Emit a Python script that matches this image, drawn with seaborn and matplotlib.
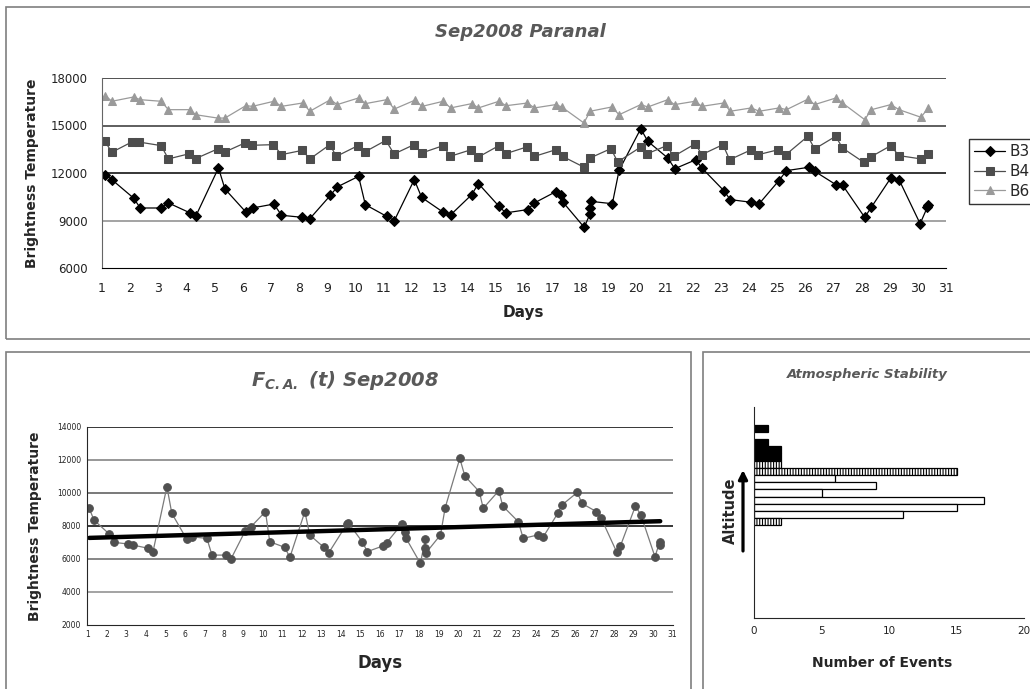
import matplotlib
matplotlib.use("Agg")

import pandas as pd
import seaborn as sns
from matplotlib import pyplot as plt
from matplotlib.patches import Rectangle


#
#   Data
#

# Top panel: brightness temperature per band, Sep 2008, Paranal
b3_days = [1.12, 1.35, 2.12, 2.36, 3.10, 3.36, 4.13, 4.33, 5.14, 5.37,
           6.12, 6.35, 7.11, 7.38, 8.12, 8.39, 9.12, 9.36, 10.12, 10.36,
           11.12, 11.39, 12.10, 12.36, 13.13, 13.39, 14.14, 14.38, 15.11, 15.35,
           16.13, 16.37, 17.13, 17.31, 17.37, 18.14, 18.35, 18.36, 18.37, 19.14,
           19.38, 20.15, 20.40, 21.11, 21.36, 22.11, 22.32, 23.10, 23.33, 24.08,
           24.36, 25.06, 25.33, 26.12, 26.33, 27.09, 27.33, 28.11, 28.35, 29.04,
           29.33, 30.08, 30.34, 30.36]
b3_vals = [11900, 11580, 10420, 9790, 9790, 10110, 9480, 9260, 12320, 10990,
           9520, 9790, 10040, 9330, 9200, 9120, 10590, 11120, 11790, 10000,
           9260, 8990, 11580, 10460, 9520, 9350, 10630, 11330, 9900, 9480,
           9690, 10110, 10820, 10610, 10190, 8570, 9430, 9790, 10210, 10060,
           12170, 14800, 14000, 12950, 12270, 12840, 12320, 10890, 10320, 10150,
           10060, 11520, 12150, 12360, 12110, 11260, 11220, 9200, 9850, 11690,
           11580, 8800, 9850, 10000]

b4_days = [1.09, 1.35, 2.06, 2.30, 3.10, 3.36, 4.11, 4.33, 5.11, 5.37,
           6.08, 6.32, 7.09, 7.38, 8.12, 8.39, 9.10, 9.33, 10.10, 10.34,
           11.09, 11.38, 12.09, 12.36, 13.13, 13.37, 14.12, 14.36, 15.11, 15.35,
           16.09, 16.37, 17.13, 17.37, 18.14, 18.35, 19.09, 19.33, 20.15, 20.38,
           21.08, 21.32, 22.09, 22.32, 23.07, 23.31, 24.08, 24.33, 25.04, 25.31,
           26.09, 26.33, 27.08, 27.32, 28.08, 28.32, 29.04, 29.32, 30.11, 30.35]
b4_vals = [14040, 13310, 13960, 13960, 13730, 12890, 13220, 12910, 13520, 13330,
           13900, 13750, 13790, 13160, 13430, 12890, 13790, 13050, 13730, 13330,
           14060, 13200, 13790, 13260, 13730, 13050, 13470, 12990, 13730, 13220,
           13640, 13050, 13470, 13050, 12360, 12950, 13540, 12700, 13640, 13220,
           13730, 13050, 13850, 13160, 13790, 12840, 13470, 13160, 13470, 13160,
           14320, 13520, 14320, 13580, 12670, 13010, 13730, 13100, 12890, 13220]

b6_days = [1.12, 1.35, 2.12, 2.36, 3.10, 3.36, 4.13, 4.33, 5.11, 5.37,
           6.11, 6.35, 7.11, 7.38, 8.13, 8.39, 9.12, 9.36, 10.12, 10.36,
           11.12, 11.39, 12.11, 12.38, 13.13, 13.39, 14.14, 14.38, 15.11, 15.36,
           16.12, 16.37, 17.13, 17.34, 18.13, 18.35, 19.12, 19.38, 20.15, 20.40,
           21.11, 21.35, 22.08, 22.32, 23.10, 23.33, 24.08, 24.36, 25.07, 25.33,
           26.10, 26.33, 27.09, 27.32, 28.11, 28.35, 29.04, 29.33, 30.11, 30.37]
b6_vals = [16880, 16530, 16800, 16630, 16530, 16000, 16000, 15680, 15470, 15470,
           16250, 16210, 16530, 16210, 16420, 15900, 16630, 16320, 16740, 16380,
           16630, 16040, 16590, 16210, 16530, 16110, 16380, 16110, 16530, 16250,
           16420, 16110, 16320, 16170, 15160, 15900, 16170, 15680, 16320, 16170,
           16630, 16320, 16530, 16210, 16420, 15900, 16110, 15900, 16110, 16000,
           16670, 16320, 16740, 16420, 15370, 16000, 16320, 16000, 15520, 16110]

# Bottom left panel: F C.A.(t)
fca_days = [1.10, 1.34, 2.13, 2.37, 3.11, 3.33, 4.13, 4.36, 5.08, 5.33,
            6.10, 6.36, 7.13, 7.39, 8.11, 8.36, 9.10, 9.39, 10.13, 10.35,
            11.12, 11.38, 12.15, 12.40, 13.12, 13.38, 14.30, 14.36, 15.09, 15.35,
            16.14, 16.34, 17.12, 17.29, 17.34, 18.07, 18.32, 18.33, 18.34, 19.10,
            19.34, 20.09, 20.35, 21.09, 21.29, 22.09, 22.29, 23.09, 23.34, 24.09,
            24.35, 25.11, 25.32, 26.12, 26.34, 27.09, 27.34, 28.12, 28.32, 29.09,
            29.37, 30.09, 30.34, 30.36]
fca_vals = [9060, 8350, 7500, 7000, 6900, 6840, 6640, 6400, 10370, 8760,
            7180, 7340, 7240, 6230, 6230, 5990, 7710, 7950, 8860, 7040,
            6700, 6090, 8860, 7450, 6700, 6380, 8100, 8200, 7040, 6440,
            6780, 6980, 8110, 7650, 7240, 5730, 7200, 6680, 6340, 7450,
            9100, 12080, 11010, 10070, 9060, 10130, 9200, 8250, 7240, 7450,
            7300, 8760, 9260, 10030, 9360, 8860, 8450, 6440, 6780, 9200,
            8660, 6130, 7040, 6840]

# Bottom right panel: atmospheric stability, one bar per altitude slot (top = 0)
alt_slot = [0, 2, 3, 4, 5, 6, 7, 8, 9, 10, 11, 12, 13]
n_events = [1, 1, 2, 2, 2, 15, 6, 9, 5, 17, 15, 11, 2]
bar_kind = ["solid", "solid", "solid", "solid", "hatched", "hatched",
            "open", "open", "open", "open", "open", "open", "hatched"]


#
#   Layout helpers (figure pixels measured from the top-left corner)
#
W, H = 1030, 689


def fx(px):
    return px / W


def fy(py):
    return 1 - py / H


def box(left, top, right, bottom):
    return [fx(left), fy(bottom), fx(right) - fx(left), fy(top) - fy(bottom)]


sns.set_style("white")
plt.rcParams.update({
    "font.family": ["DejaVu Sans"],
    "mathtext.fontset": "custom",
    "mathtext.it": "DejaVu Sans:bold:italic",
    "mathtext.rm": "DejaVu Sans:bold:italic",
    "mathtext.bf": "DejaVu Sans:bold:italic",
    "hatch.color": "black",
    "hatch.linewidth": 0.8,
})

TITLE_GREY = "#595959"

fig = plt.figure(figsize=(10.3, 6.89), dpi=100)
fig.patch.set_facecolor("white")

# panel frames
for l, t, r, b in [(6, 7, 1040, 339), (6, 352, 691, 700), (703, 352, 1040, 700)]:
    fig.add_artist(Rectangle((fx(l), fy(b)), fx(r) - fx(l), fy(t) - fy(b),
                             transform=fig.transFigure, fill=False,
                             edgecolor="#7f7f7f", lw=1.2))


#
#   Top panel
#
ax1 = fig.add_axes(box(102, 78, 946, 268))

for v, c in zip([9000, 12000, 15000, 18000], ["#8a8a8a", "black", "#333333", "#222222"]):
    ax1.axhline(v, color=c, lw=1.1, zorder=0)

sns.lineplot(x=b3_days, y=b3_vals, ax=ax1, color="black", lw=0.9,
             marker="D", markersize=5, markeredgecolor="black",
             estimator=None, sort=False, label="B3")
sns.lineplot(x=b4_days, y=b4_vals, ax=ax1, color="#4d4d4d", lw=0.9,
             marker="s", markersize=5.5, markeredgecolor="#4d4d4d",
             estimator=None, sort=False, label="B4")
sns.lineplot(x=b6_days, y=b6_vals, ax=ax1, color="#9a9a9a", lw=0.9,
             marker="^", markersize=6, markeredgecolor="#9a9a9a",
             estimator=None, sort=False, label="B6")

ax1.set_xlim(1, 31)
ax1.set_ylim(6000, 18000)
ax1.set_xticks(range(1, 32))
ax1.set_yticks(range(6000, 18001, 3000))
ax1.tick_params(axis="both", direction="out", length=3, width=0.8,
                labelsize=8.5, labelcolor="#222222", color="#333333", pad=7)
ax1.tick_params(axis="x", labelsize=9)
sns.despine(ax=ax1)
ax1.spines["left"].set_color("#666666")
ax1.spines["bottom"].set_color("black")
ax1.set_xlabel("")
ax1.set_ylabel("")

leg = ax1.legend(loc="upper left", bbox_to_anchor=(fx(969), fy(139)),
                 bbox_transform=fig.transFigure, borderaxespad=0,
                 frameon=True, fancybox=False, edgecolor="black",
                 fontsize=11, handlelength=2.0, handletextpad=0.3,
                 labelspacing=0.3, borderpad=0.35)
leg.get_frame().set_linewidth(1.0)

fig.text(fx(520), fy(32), "Sep2008 Paranal", ha="center", va="center",
         fontsize=13, fontweight="bold", style="italic", color=TITLE_GREY)
fig.text(fx(32), fy(173), "Brightness Temperature", ha="center", va="center",
         rotation=90, fontsize=10, fontweight="bold")
fig.text(fx(523), fy(312), "Days", ha="center", va="center",
         fontsize=11, fontweight="bold")


#
#   Bottom left panel
#
ax2 = fig.add_axes(box(87.3, 426.7, 672.7, 625))

for v, c in zip([4000, 6000, 8000, 10000, 12000, 14000],
                ["#8a8a8a", "#666666", "black", "#555555", "#7a7a7a", "black"]):
    ax2.axhline(v, color=c, lw=1.1, zorder=0)

sns.lineplot(x=fca_days, y=fca_vals, ax=ax2, color="#7a7a7a", lw=0.9,
             marker="o", markersize=5.5, markerfacecolor="#505050",
             markeredgecolor="#505050", estimator=None, sort=False)
sns.regplot(x=fca_days, y=fca_vals, ax=ax2, scatter=False, ci=None,
            truncate=True, line_kws=dict(color="black", lw=3.2))

ax2.set_xlim(1, 31)
ax2.set_ylim(2000, 14000)
ax2.set_xticks(range(1, 32))
ax2.set_yticks(range(2000, 14001, 2000))
ax2.tick_params(axis="both", direction="out", length=2.5, width=0.8,
                labelsize=5.5, labelcolor="#222222", color="black", pad=2)
ax2.tick_params(axis="x", pad=1)
sns.despine(ax=ax2)
ax2.set_xlabel("")
ax2.set_ylabel("")

fig.text(fx(345), fy(380), r"$F_{C.A.}$ (t) Sep2008", ha="center", va="center",
         fontsize=14, fontweight="bold", style="italic", color=TITLE_GREY)
fig.text(fx(35), fy(526), "Brightness Temperature", ha="center", va="center",
         rotation=90, fontsize=10, fontweight="bold")
fig.text(fx(380), fy(663), "Days", ha="center", va="center",
         fontsize=12, fontweight="bold")


#
#   Bottom right panel
#
ax3 = fig.add_axes(box(754, 406.7, 1024, 618.3))

sns.barplot(x=n_events, y=alt_slot, orient="h", native_scale=True, width=1.0,
            color="white", edgecolor="black", linewidth=0.9, errorbar=None,
            saturation=1, ax=ax3)

kind_of = dict(zip(alt_slot, bar_kind))
for p in ax3.patches:
    slot = int(round(p.get_y() + p.get_height() / 2))
    kind = kind_of.get(slot)
    if kind == "solid":
        p.set_facecolor("black")
    elif kind == "hatched":
        p.set_facecolor("white")
        p.set_hatch("||||||")

ax3.set_xlim(0, 20)
ax3.set_ylim(26.4, -3.0)
ax3.set_xticks([0, 5, 10, 15, 20])
ax3.set_yticks([-3 + 2.5 * k for k in range(12)])
ax3.set_yticklabels([])
ax3.tick_params(axis="both", direction="out", length=2.5, width=0.8,
                labelsize=7.5, labelcolor="#222222", color="black", pad=3)
sns.despine(ax=ax3)
ax3.set_xlabel("")
ax3.set_ylabel("")

fig.text(fx(867), fy(375), "Atmospheric Stability", ha="center", va="center",
         fontsize=9.5, fontweight="bold", style="italic", color=TITLE_GREY)
fig.text(fx(882), fy(663), "Number of Events", ha="center", va="center",
         fontsize=10, fontweight="bold")
fig.text(fx(730), fy(511), "Altitude", ha="center", va="center",
         rotation=90, fontsize=10.5, fontweight="bold")
ax3.annotate("", xy=(fx(743), fy(470)), xytext=(fx(743), fy(551)),
             xycoords="figure fraction", textcoords="figure fraction",
             annotation_clip=False,
             arrowprops=dict(arrowstyle="-|>", color="black", lw=2.3,
                             mutation_scale=13, shrinkA=0, shrinkB=0))


fig.savefig("out.png", dpi=100)
